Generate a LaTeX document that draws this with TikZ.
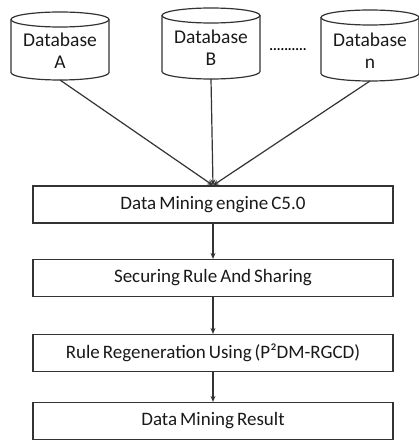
\documentclass[tikz,border=0pt]{standalone}
\usepackage{fontspec}
\setmainfont{Carlito}[WordSpace=0.7]
\usetikzlibrary{arrows.meta}
\newcommand\mycyl[4]{% name, cx, ytop, ybottom (image coords, y down)
  \draw[cylline] (#2-49,-#3-7.5) -- (#2-49,-#4+7.5)
     arc[start angle=180,end angle=360,x radius=49,y radius=7.5]
     -- (#2+49,-#3-7.5);
  \draw[cylline] (#2,-#3-7.5) ellipse[x radius=49,y radius=7.5];
  \coordinate (#1) at (#2,-#4);}
\begin{document}
\begin{tikzpicture}[x=1pt,y=1pt,
  cylline/.style={draw=black!80,line width=1.2pt},
  dbtext/.style={align=center,inner sep=0pt,font=\fontsize{19.5}{22}\selectfont,text=black!90},
  stepbox/.style={draw=black!80,line width=1.2pt,minimum width=360pt,minimum height=37pt,inner sep=0pt,
    font=\fontsize{19}{22}\selectfont,text=black!90},
  conn/.style={draw=black!80,line width=1.2pt,-{Stealth[length=6pt,width=5pt]}}]
\useasboundingbox (0,0) rectangle (419,-441);
\mycyl{dbA}{60}{12}{80}
\mycyl{dbB}{211}{8}{79}
\mycyl{dbN}{370}{10}{81}
\node[dbtext] (tA) at (60,-51) {Database\\A};
\node[dbtext] (tB) at (211,-48) {Database\\B};
\node[dbtext] (tN) at (370,-51) {Database\\n};
\node[font=\fontsize{14}{14}\selectfont\bfseries] (dots) at (288,-50) {..........};
\node[stepbox] (b1) at (213,-204.5) {Data Mining engine C5.0};
\node[stepbox] (b2) at (213,-278) {Securing Rule And Sharing};
\node[stepbox] (b3) at (213,-353) {Rule Regeneration Using (P²DM-RGCD)};
\node[stepbox] (b4) at (213,-421) {Data Mining Result};
\draw[conn] (dbA) -- (b1.north);
\draw[conn] (dbB) -- (b1.north);
\draw[conn] (dbN) -- (b1.north);
\draw[conn] (b1) -- (b2);
\draw[conn] (b2) -- (b3);
\draw[conn] (b3) -- (b4);
\end{tikzpicture}
\end{document}
